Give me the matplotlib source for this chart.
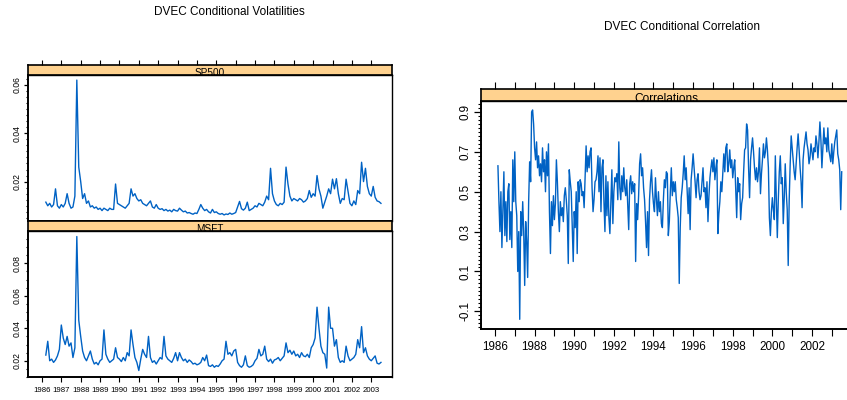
import numpy as np
import matplotlib
matplotlib.use('Agg')
import matplotlib.pyplot as plt
from matplotlib.ticker import MultipleLocator

plt.rcParams['font.family'] = ['Liberation Sans', 'DejaVu Sans']

# conditional volatilities, one value every 0.1 year starting 1986.2
sp500_vol = [
    0.0115, 0.0100, 0.0110, 0.0095, 0.0105, 0.0170, 0.0100, 0.0090,
    0.0105, 0.0095, 0.0110, 0.0150, 0.0110, 0.0090, 0.0095, 0.0140, 0.0620, 0.0260,
    0.0200, 0.0130, 0.0150, 0.0110, 0.0120, 0.0095, 0.0100, 0.0090, 0.0095, 0.0085,
    0.0090, 0.0080, 0.0090, 0.0085, 0.0080, 0.0090, 0.0085, 0.0085, 0.0190, 0.0110,
    0.0105, 0.0100, 0.0095, 0.0090, 0.0100, 0.0110, 0.0170, 0.0140, 0.0150, 0.0130,
    0.0120, 0.0125, 0.0110, 0.0105, 0.0100, 0.0110, 0.0120, 0.0095, 0.0090, 0.0105,
    0.0090, 0.0085, 0.0088, 0.0080, 0.0085, 0.0078, 0.0082, 0.0075, 0.0085, 0.0080,
    0.0078, 0.0090, 0.0082, 0.0075, 0.0078, 0.0070, 0.0072, 0.0068, 0.0065, 0.0070,
    0.0068, 0.0085, 0.0105, 0.0090, 0.0080, 0.0085, 0.0075, 0.0070, 0.0085, 0.0072,
    0.0075, 0.0068, 0.0065, 0.0068, 0.0062, 0.0066, 0.0064, 0.0070, 0.0065, 0.0068,
    0.0072, 0.0095, 0.0118, 0.0088, 0.0082, 0.0090, 0.0115, 0.0080, 0.0085, 0.0090,
    0.0100, 0.0095, 0.0110, 0.0105, 0.0100, 0.0115, 0.0140, 0.0125, 0.0255, 0.0150,
    0.0120, 0.0105, 0.0100, 0.0110, 0.0105, 0.0115, 0.0260, 0.0190, 0.0140, 0.0120,
    0.0130, 0.0125, 0.0120, 0.0130, 0.0125, 0.0115, 0.0120, 0.0130, 0.0163, 0.0135,
    0.0150, 0.0140, 0.0225, 0.0170, 0.0140, 0.0090, 0.0115, 0.0140, 0.0170, 0.0150,
    0.0210, 0.0170, 0.0212, 0.0150, 0.0110, 0.0130, 0.0125, 0.0210, 0.0160, 0.0110,
    0.0100, 0.0120, 0.0105, 0.0163, 0.0150, 0.0280, 0.0200, 0.0255, 0.0180, 0.0150,
    0.0140, 0.0180, 0.0135, 0.0120, 0.0117, 0.0110,
]
msft_vol = [
    0.0235, 0.0320, 0.0200, 0.0210, 0.0190, 0.0205, 0.0230, 0.0270,
    0.0420, 0.0340, 0.0300, 0.0350, 0.0290, 0.0310, 0.0220, 0.0280, 0.0965, 0.0450,
    0.0350, 0.0260, 0.0220, 0.0200, 0.0230, 0.0260, 0.0210, 0.0180, 0.0190, 0.0175,
    0.0200, 0.0210, 0.0390, 0.0240, 0.0210, 0.0190, 0.0200, 0.0210, 0.0280, 0.0220,
    0.0210, 0.0195, 0.0220, 0.0200, 0.0250, 0.0230, 0.0390, 0.0300, 0.0220, 0.0190,
    0.0140, 0.0210, 0.0270, 0.0240, 0.0220, 0.0350, 0.0220, 0.0190, 0.0200, 0.0180,
    0.0200, 0.0220, 0.0210, 0.0350, 0.0230, 0.0210, 0.0200, 0.0190, 0.0215, 0.0250,
    0.0200, 0.0250, 0.0220, 0.0200, 0.0210, 0.0190, 0.0205, 0.0195, 0.0180, 0.0185,
    0.0175, 0.0180, 0.0190, 0.0220, 0.0200, 0.0235, 0.0170, 0.0165, 0.0175, 0.0160,
    0.0170, 0.0165, 0.0180, 0.0200, 0.0210, 0.0320, 0.0240, 0.0250, 0.0230, 0.0260,
    0.0270, 0.0190, 0.0170, 0.0160, 0.0175, 0.0230, 0.0170, 0.0160, 0.0165, 0.0175,
    0.0200, 0.0215, 0.0270, 0.0230, 0.0240, 0.0290, 0.0210, 0.0195, 0.0210, 0.0185,
    0.0205, 0.0210, 0.0220, 0.0200, 0.0215, 0.0230, 0.0310, 0.0250, 0.0265, 0.0240,
    0.0260, 0.0230, 0.0240, 0.0220, 0.0250, 0.0230, 0.0225, 0.0240, 0.0220, 0.0280,
    0.0300, 0.0340, 0.0530, 0.0400, 0.0290, 0.0250, 0.0240, 0.0155, 0.0530, 0.0400,
    0.0400, 0.0290, 0.0330, 0.0220, 0.0190, 0.0200, 0.0190, 0.0290, 0.0230, 0.0200,
    0.0210, 0.0220, 0.0240, 0.0330, 0.0280, 0.0410, 0.0250, 0.0280, 0.0230, 0.0210,
    0.0200, 0.0215, 0.0230, 0.0185, 0.0180, 0.0190,
]

# conditional correlation, one value every 0.05 year starting 1986.15
dvec_corr = [
    0.63, 0.45, 0.30, 0.50, 0.22, 0.42, 0.60, 0.28, 0.45, 0.25, 0.50, 0.54, 0.26, 0.40, 0.22, 0.66, 0.45,
    0.70, 0.45, 0.38, 0.10, 0.30, -0.14, 0.40, 0.28, 0.45, 0.30, 0.03, 0.35, 0.25, 0.07, 0.45, 0.65, 0.55, 0.90, 0.91, 0.84,
    0.72, 0.66, 0.75, 0.62, 0.68, 0.58, 0.64, 0.55, 0.72, 0.60, 0.66, 0.50, 0.70, 0.58, 0.74, 0.40, 0.19, 0.45, 0.33, 0.48,
    0.36, 0.44, 0.66, 0.55, 0.40, 0.30, 0.45, 0.38, 0.42, 0.35, 0.48, 0.52, 0.46, 0.38, 0.14, 0.61, 0.55, 0.50, 0.32, 0.15,
    0.40, 0.32, 0.50, 0.19, 0.55, 0.45, 0.56, 0.54, 0.48, 0.50, 0.42, 0.58, 0.73, 0.60, 0.68, 0.62, 0.70, 0.72, 0.52, 0.40,
    0.46, 0.55, 0.56, 0.60, 0.68, 0.50, 0.67, 0.40, 0.62, 0.66, 0.45, 0.30, 0.58, 0.38, 0.55, 0.37, 0.29, 0.45, 0.61, 0.34,
    0.50, 0.57, 0.55, 0.59, 0.46, 0.75, 0.52, 0.46, 0.58, 0.50, 0.62, 0.52, 0.48, 0.56, 0.44, 0.31, 0.54, 0.58, 0.49, 0.55,
    0.50, 0.54, 0.15, 0.44, 0.36, 0.48, 0.64, 0.69, 0.58, 0.62, 0.52, 0.46, 0.35, 0.22, 0.40, 0.18, 0.46, 0.55, 0.61, 0.50,
    0.44, 0.40, 0.57, 0.46, 0.38, 0.50, 0.40, 0.45, 0.34, 0.32, 0.46, 0.56, 0.52, 0.60, 0.59, 0.28, 0.35, 0.50, 0.62, 0.48,
    0.55, 0.50, 0.55, 0.46, 0.42, 0.37, 0.04, 0.32, 0.47, 0.52, 0.59, 0.68, 0.56, 0.62, 0.50, 0.39, 0.52, 0.31, 0.56, 0.62,
    0.69, 0.62, 0.55, 0.47, 0.56, 0.59, 0.50, 0.46, 0.48, 0.55, 0.62, 0.50, 0.52, 0.42, 0.55, 0.35, 0.48, 0.57, 0.62, 0.66,
    0.60, 0.67, 0.56, 0.62, 0.66, 0.29, 0.39, 0.45, 0.55, 0.50, 0.59, 0.69, 0.60, 0.72, 0.74, 0.60, 0.64, 0.71, 0.62, 0.66,
    0.57, 0.62, 0.66, 0.52, 0.37, 0.57, 0.50, 0.54, 0.36, 0.44, 0.47, 0.60, 0.71, 0.72, 0.84, 0.81, 0.62, 0.47, 0.66, 0.72,
    0.77, 0.70, 0.62, 0.56, 0.62, 0.55, 0.60, 0.72, 0.49, 0.59, 0.66, 0.74, 0.67, 0.70, 0.77, 0.71, 0.62, 0.37, 0.28, 0.40,
    0.47, 0.41, 0.36, 0.68, 0.46, 0.27, 0.46, 0.60, 0.68, 0.54, 0.57, 0.34, 0.47, 0.64, 0.50, 0.41, 0.13, 0.46, 0.64, 0.78,
    0.72, 0.66, 0.60, 0.56, 0.64, 0.72, 0.79, 0.71, 0.62, 0.55, 0.42, 0.66, 0.72, 0.76, 0.80, 0.74, 0.71, 0.64, 0.67, 0.74,
    0.70, 0.66, 0.72, 0.70, 0.78, 0.74, 0.67, 0.75, 0.85, 0.76, 0.62, 0.72, 0.82, 0.74, 0.77, 0.70, 0.82, 0.71, 0.68, 0.65,
    0.74, 0.64, 0.70, 0.75, 0.78, 0.81, 0.69, 0.66, 0.61, 0.41, 0.60,
]

years = list(range(1986, 2004))
sp500_ticks = [0.02, 0.04, 0.06]
msft_ticks = [0.02, 0.04, 0.06, 0.08]
corr_ticks = [-0.1, 0.1, 0.3, 0.5, 0.7, 0.9]

vol_t = 1986.2 + 0.1 * np.arange(len(sp500_vol))
corr_t = 1986.15 + 0.05 * np.arange(len(dvec_corr))

line_col = '#0062C4'
strip_col = '#FFD28F'
W, H = 847, 400
xlim = (1985.28, 2004.07)


def rect(x0, y0, x1, y1):
    # pixel box (from top-left) -> figure fraction
    return [x0 / W, 1 - y1 / H, (x1 - x0) / W, (y1 - y0) / H]


def add_strip(box, label, fs, top_ticks, tick_len):
    s = fig.add_axes(box)
    s.set_facecolor(strip_col)
    s.set_xlim(xlim)
    s.set_ylim(0, 1)
    s.set_yticks([])
    s.set_xticks(years)
    s.tick_params(axis='x', bottom=False, labelbottom=False, top=top_ticks,
                  labeltop=False, direction='out', length=tick_len, width=0.8)
    for sp in s.spines.values():
        sp.set_linewidth(1.2)
    # label sits low in the strip, its foot hidden by the panel below
    s.text(0.5, 0.15, label, transform=s.transAxes, ha='center', va='center',
           fontsize=fs)
    return s


def style_panel(ax, fs, major_len, minor_len):
    ax.set_xlim(xlim)
    for sp in ax.spines.values():
        sp.set_linewidth(1.0)
    ax.spines['left'].set_linewidth(1.4)
    ax.spines['bottom'].set_linewidth(1.4)
    ax.tick_params(axis='y', which='major', direction='out', length=major_len,
                   width=0.9, labelsize=fs, pad=1.5)
    ax.tick_params(axis='y', which='minor', direction='out', length=minor_len,
                   width=0.8)
    for lab in ax.get_yticklabels():
        lab.set_rotation(90)
        lab.set_va('center')


fig = plt.figure(figsize=(W / 100, H / 100), dpi=100)

# ---- left: volatilities ----
add_strip(rect(28, 65, 392, 75), 'SP500', 7.2, True, 3.5)
ax1 = fig.add_axes(rect(28, 75, 392, 221))
ax1.plot(vol_t, sp500_vol, color=line_col, lw=1.0)
ax1.set_ylim(0.0037, 0.0641)
ax1.set_yticks(sp500_ticks, [f'{v:.2f}' for v in sp500_ticks])
ax1.yaxis.set_minor_locator(MultipleLocator(0.0025))
ax1.set_xticks([])
style_panel(ax1, 6.2, 3, 1.6)

add_strip(rect(28, 221, 392, 231), 'MSFT', 7.2, False, 0)
ax2 = fig.add_axes(rect(28, 231, 392, 377))
ax2.plot(vol_t, msft_vol, color=line_col, lw=1.0)
ax2.set_ylim(0.010, 0.0999)
ax2.set_yticks(msft_ticks, [f'{v:.2f}' for v in msft_ticks])
ax2.yaxis.set_minor_locator(MultipleLocator(0.005))
ax2.set_xticks(years, [str(y) for y in years])
ax2.tick_params(axis='x', direction='out', length=3.5, width=0.8,
                labelsize=5.6, pad=3.5)
style_panel(ax2, 6.2, 3, 1.6)

# ---- right: correlation ----
add_strip(rect(480.7, 89.3, 853, 101), 'Correlations', 8.6, True, 4.8)
ax3 = fig.add_axes(rect(480.7, 101, 853, 329.3))
ax3.plot(corr_t, dvec_corr, color=line_col, lw=1.0)
ax3.set_ylim(-0.19, 0.955)
ax3.set_yticks(corr_ticks, [f'{v:.1f}' for v in corr_ticks])
ax3.yaxis.set_minor_locator(MultipleLocator(0.02))
ax3.set_xticks(years, [str(y) if y % 2 == 0 and y < 2003 else '' for y in years])
ax3.tick_params(axis='x', direction='out', length=4.8, width=0.8,
                labelsize=8.4, pad=3.5)
style_panel(ax3, 8.4, 5, 2.2)

fig.text(229 / W, 1 - 12 / H, 'DVEC Conditional Volatilities',
         ha='center', va='center', fontsize=8.5)
fig.text(682 / W, 1 - 27 / H, 'DVEC Conditional Correlation',
         ha='center', va='center', fontsize=8.5)

fig.savefig('out.png', dpi=100)
